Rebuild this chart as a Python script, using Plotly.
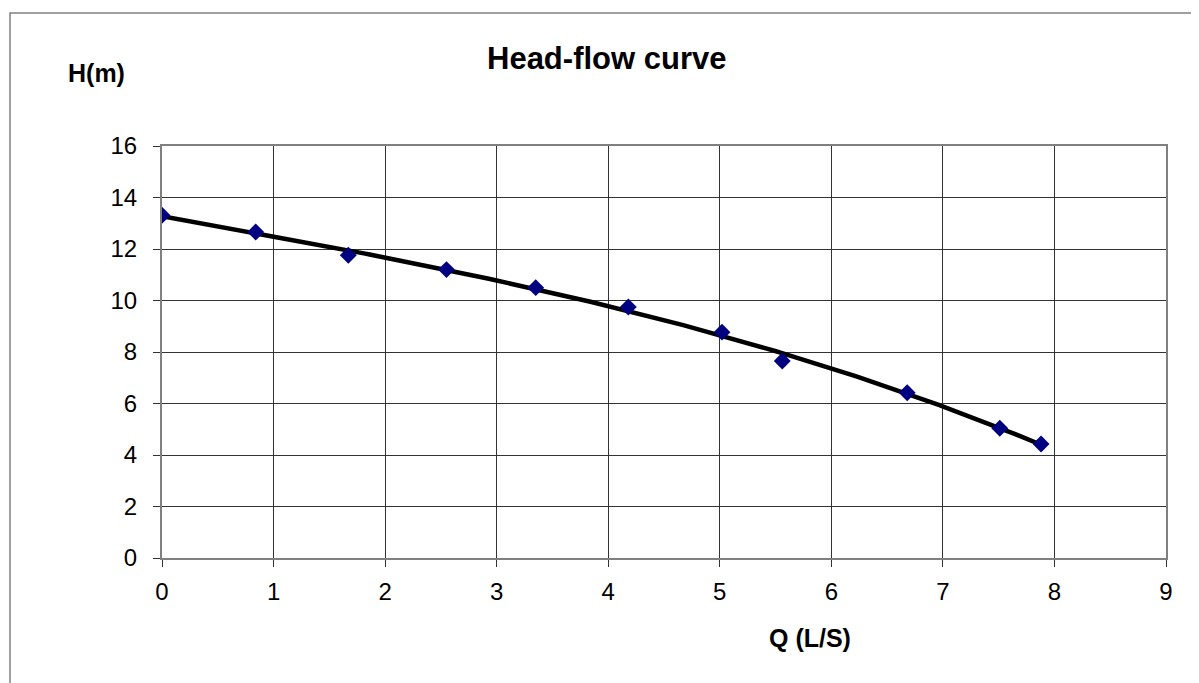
import numpy as np
import plotly.graph_objects as go

# Data
flow_q = [0.0, 0.84, 1.67, 2.55, 3.35, 4.18, 5.02, 5.56, 6.68, 7.51, 7.88]
head_h = [13.31, 12.66, 11.76, 11.20, 10.50, 9.75, 8.77, 7.65, 6.42, 5.04, 4.43]
x_ticks = [0, 1, 2, 3, 4, 5, 6, 7, 8, 9]
y_ticks = [0, 2, 4, 6, 8, 10, 12, 14, 16]

# Polynomial trendline (as in the spreadsheet chart), fitted to the data
coef = np.polyfit(flow_q, head_h, 3)
q_fit = np.linspace(min(flow_q), max(flow_q), 200)
h_fit = np.polyval(coef, q_fit)

# The page body has an 8px margin; work in page pixels and shift.
OFF = 8
W, H = 1199 - OFF, 683 - OFF
ml, mr, mt, mb = 162 - OFF, 33, 146 - OFF, 125
pw, ph = W - ml - mr, H - mt - mb

def px(xp):  # page pixel -> paper
    return (xp - OFF - ml) / pw

def py(yp):
    return (H - mb - (yp - OFF)) / ph

FONT = "Liberation Sans, Arial, sans-serif"

fig = go.Figure()
fig.add_trace(go.Scatter(x=q_fit, y=h_fit, mode="lines",
                         line=dict(color="black", width=4.5),
                         hoverinfo="skip", showlegend=False))
fig.add_trace(go.Scatter(x=flow_q, y=head_h, mode="markers",
                         marker=dict(symbol="diamond", size=13, color="#000080",
                                     line=dict(width=0)),
                         showlegend=False))

fig.update_layout(
    width=W, height=H,
    margin=dict(l=ml, r=mr, t=mt, b=mb, autoexpand=False),
    paper_bgcolor="white", plot_bgcolor="white",
    font=dict(family=FONT, color="black", size=24),
    showlegend=False,
)
fig.update_xaxes(range=[0, 9], tickvals=x_ticks, ticktext=[str(v) for v in x_ticks],
                 showgrid=True, gridcolor="#333333", gridwidth=1.2,
                 showline=True, linecolor="#808080", linewidth=2, mirror=True,
                 ticks="outside", ticklen=7, tickcolor="#333333",
                 tickfont=dict(size=24), ticklabelstandoff=4, zeroline=False)
fig.update_yaxes(range=[0, 16], tickvals=y_ticks, ticktext=[str(v) for v in y_ticks],
                 showgrid=True, gridcolor="#333333", gridwidth=1.2,
                 showline=True, linecolor="#808080", linewidth=2, mirror=True,
                 ticks="outside", ticklen=7, tickcolor="#333333",
                 tickfont=dict(size=24), ticklabelstandoff=11, zeroline=False)

# Outer chart frame (only left and top edges visible in the reference)
fig.add_shape(type="rect", xref="paper", yref="paper",
              x0=px(10), y0=py(720), x1=px(1240), y1=py(13),
              line=dict(color="#808080", width=1.5), layer="below")

fig.add_annotation(text="<b>Head-flow curve</b>", xref="paper", yref="paper",
                   x=px(606), y=py(58), showarrow=False,
                   xanchor="center", yanchor="middle",
                   font=dict(size=31, family=FONT, color="black"))
fig.add_annotation(text="<b>H(m)</b>", xref="paper", yref="paper",
                   x=px(96), y=py(73), showarrow=False,
                   xanchor="center", yanchor="middle",
                   font=dict(size=25, family=FONT, color="black"))
fig.add_annotation(text="<b>Q (L/S)</b>", xref="paper", yref="paper",
                   x=px(810), y=py(638), showarrow=False,
                   xanchor="center", yanchor="middle",
                   font=dict(size=25, family=FONT, color="black"))

fig.write_html("out.html")
